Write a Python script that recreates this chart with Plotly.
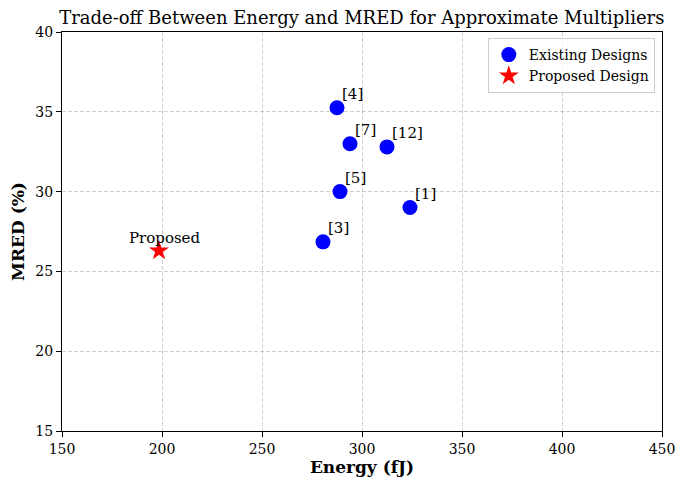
import plotly.graph_objects as go

labels = ["[1]", "[3]", "[4]", "[5]", "[7]", "[12]"]
energy = [324, 280.5, 287.5, 289, 294, 312.5]
mred = [29.0, 26.85, 35.25, 30.0, 33.0, 32.8]

prop_label = "Proposed"
prop_energy = [198.5]
prop_mred = [26.3]

FONT = "DejaVu Serif"

fig = go.Figure()
fig.add_trace(go.Scatter(
    x=energy, y=mred, mode="markers", name="Existing Designs",
    marker=dict(color="blue", size=15, line=dict(width=0)),
))
fig.add_trace(go.Scatter(
    x=prop_energy, y=prop_mred, mode="markers", name="Proposed Design",
    marker=dict(color="red", size=15, symbol="star", line=dict(width=0)),
))

for lab, xv, yv in zip(labels, energy, mred):
    fig.add_annotation(x=xv, y=yv, text=lab, showarrow=False,
                       xanchor="left", yanchor="bottom", xshift=3, yshift=3,
                       font=dict(family=FONT, size=15, color="black"))
fig.add_annotation(x=prop_energy[0], y=prop_mred[0], text=prop_label, showarrow=False,
                   xanchor="center", yanchor="bottom", xshift=6, yshift=2,
                   font=dict(family=FONT, size=15, color="black"))

axis_common = dict(
    showline=True, linecolor="black", linewidth=1, mirror=True,
    ticks="outside", ticklen=5, tickcolor="black", tickwidth=1,
    showgrid=True, gridcolor="rgba(0,0,0,0.18)", griddash="4px,2px", gridwidth=1,
    zeroline=False, tickfont=dict(family=FONT, size=14, color="black"),
    automargin=False,
)

fig.update_xaxes(range=[150, 450], dtick=50, tick0=150,
                 title=dict(text="<b>Energy (fJ)</b>", font=dict(family=FONT, size=17, color="black"), standoff=5),
                 **axis_common)
fig.update_yaxes(range=[15, 40], dtick=5, tick0=15,
                 title=dict(text="<b>MRED (%)</b>", font=dict(family=FONT, size=17, color="black"), standoff=10),
                 **axis_common)

fig.update_layout(
    width=679, height=479,
    margin=dict(l=54, r=25, t=24, b=56),
    paper_bgcolor="white", plot_bgcolor="white",
    title=dict(text="Trade-off Between Energy and MRED for Approximate Multipliers",
               font=dict(family=FONT, size=18, color="black"),
               x=0.521, xanchor="center", y=0.979, yanchor="middle"),
    legend=dict(x=0.988, y=0.985, xanchor="right", yanchor="top",
                bgcolor="rgba(255,255,255,0.8)", bordercolor="#cccccc", borderwidth=1,
                font=dict(family=FONT, size=14, color="black")),
    showlegend=True,
)

fig.write_html("out.html")
